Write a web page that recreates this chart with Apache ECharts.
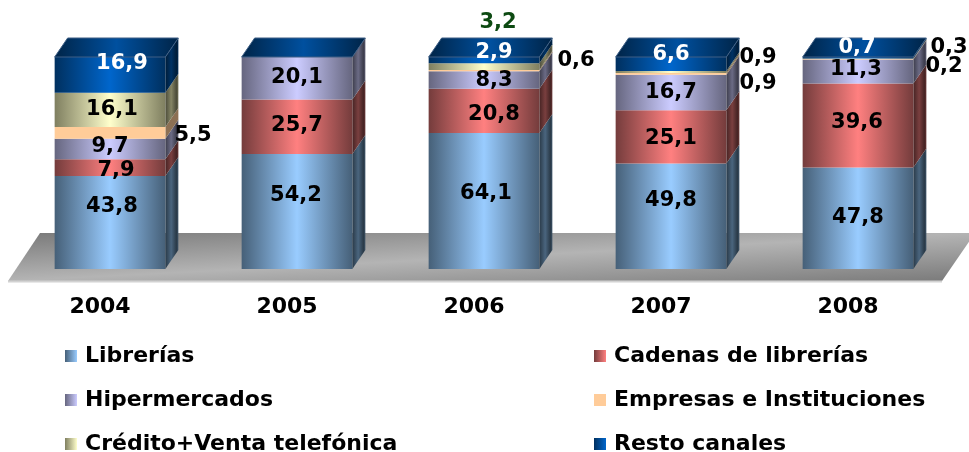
<!DOCTYPE html>
<html><head><meta charset="utf-8">
<style>html,body{margin:0;padding:0;background:#fff}#c{width:969px;height:452px}</style>
<script src="https://cdn.jsdelivr.net/npm/echarts@6/dist/echarts.min.js"></script>
</head><body><div id="c"></div>
<script>
const years = ['2004','2005','2006','2007','2008'];
const librerias = [43.8,54.2,64.1,49.8,47.8];
const cadenas = [7.9,25.7,20.8,25.1,39.6];
const hipermercados = [9.7,20.1,8.3,16.7,11.3];
const empresas = [5.5,0,0.6,0.9,0.2];
const credito = [16.1,0,3.2,0.9,0.3];
const resto = [16.9,0,2.9,6.6,0.7];

const seriesNames = ['Librerías','Cadenas de librerías','Hipermercados','Empresas e Instituciones','Crédito+Venta telefónica','Resto canales'];
const seriesValues = [librerias,cadenas,hipermercados,empresas,credito,resto];
const edgeColors = ['#466078','#743c3c','#66667f','#ffcc99','#7f7f60','#00305f'];
const midColors = ['#99ccff','#ff8080','#ccccff','#ffcc99','#ffffcc','#0066cc'];
const labelColors = ['#000','#000','#000','#000','#000','#fff'];
// label nudges from segment centre, px: [dx, dy] per series, per year
const labelNudges = [
 [[2,-16],[-1,-16],[2,-7],[0,-16],[0,-1]],
 [[6,3],[0,-1],[10,4],[0,2],[-1,-3]],
 [[0,-2],[0,-1],[10,1],[0,0],[-2,-2]],
 [[83,3],[0,0],[92,-10],[87,10],[86,7]],
 [[2,0],[0,0],[14,-44],[87,-14],[91,-11]],
 [[12,-11],[0,0],[10,-8],[0,-9],[-1,-10]]
];
const creditoHighlight = {series:4, year:2, color:'#0d4a12'};
const DX = 13, DY = 19;

function hGrad(a,b){return new echarts.graphic.LinearGradient(0,0,1,0,[
  {offset:0,color:a},{offset:.5,color:b},{offset:1,color:a}]);}
function shade(hex,f){
  const n=parseInt(hex.slice(1),16);
  const c=[n>>16&255,n>>8&255,n&255].map(v=>Math.min(255,Math.round(v*f)));
  return `rgb(${c})`;
}
function stackEdges(s,i){
  const sum=seriesValues.reduce((t,a)=>t+a[i],0);
  let low=0; for(let k=0;k<s;k++) low+=seriesValues[k][i];
  return [low/sum*100,(low+seriesValues[s][i])/sum*100];
}
const makeRender = s => (params,api)=>{
  const i=api.value(0), v=seriesValues[s][i];
  const [lo,hi]=stackEdges(s,i);
  const x0=api.coord([i,lo]), x1=api.coord([i,hi]);
  const w=api.size([1,0])[0]*0.592;
  const L=x0[0]-w/2, R=x0[0]+w/2, B=x0[1], T=x1[1];
  const kids=[];
  if(v>0){
    const flat=edgeColors[s]===midColors[s];
    const e=edgeColors[s];
    kids.push({type:'polygon',shape:{points:[[R,B],[R+DX,B-DY],[R+DX,T-DY],[R,T]]},
      style:{fill:new echarts.graphic.LinearGradient(0,0,1,0,flat?[
        {offset:0,color:shade(e,.55)},{offset:1,color:shade(e,.55)}]:[
        {offset:0,color:shade(e,.6)},
        {offset:.45,color:shade(e,1.05)},
        {offset:.85,color:shade(e,.6)},
        {offset:1,color:shade(e,.85)}])},silent:true});
    kids.push({type:'rect',shape:{x:L,y:T,width:w,height:B-T},
      style:{fill:hGrad(edgeColors[s],midColors[s])},silent:true});
  }
  if(s===seriesValues.length-1){
    kids.push({type:'polygon',shape:{points:[[L,T],[L+DX,T-DY],[R+DX,T-DY],[R,T]]},
      style:{fill:hGrad('#002447','#00509f'),stroke:'#3f5f85',lineWidth:1},silent:true});
  }
  return {type:'group',children:kids};
};
const labelRender = (params,api)=>{
  const kids=[];
  seriesValues.forEach((vals,s)=>{
    const i=api.value(0), v=vals[i];
    if(!v) return;
    const [lo,hi]=stackEdges(s,i);
    const p=api.coord([i,(lo+hi)/2]), n=labelNudges[s][i];
    const hl=creditoHighlight.series===s&&creditoHighlight.year===i;
    kids.push({type:'text',z2:10,x:p[0]+n[0],y:p[1]+n[1],style:{
      text:String(v).replace('.',','),
      fill:hl?creditoHighlight.color:labelColors[s],
      font:'bold 21px "DejaVu Sans"',align:'center',verticalAlign:'middle'}});
  });
  return {type:'group',children:kids};
};
const series = seriesNames.map((name,s)=>({
  name,type:'custom',coordinateSystem:'cartesian2d',renderItem:makeRender(s),
  encode:{x:0,y:1},silent:true,z:2+s,
  itemStyle:{color:new echarts.graphic.LinearGradient(0,0,1,0,[{offset:0,color:edgeColors[s]},{offset:1,color:midColors[s]}])},
  data:years.map((y,i)=>[i,seriesValues[s][i]])
}));
series.push({type:'custom',name:'etiquetas',coordinateSystem:'cartesian2d',renderItem:labelRender,
  silent:true,z:20,encode:{x:0,y:1},data:years.map((y,i)=>[i,100])});

const legendBase = {orient:'vertical',itemWidth:12,itemHeight:12,itemGap:22,icon:'rect',selectedMode:false,height:130,
  textStyle:{color:'#000',fontFamily:'DejaVu Sans',fontWeight:'bold',fontSize:22,lineHeight:20,padding:[0,0,0,3]},padding:0};
const chart = echarts.init(document.getElementById('c'),null,{renderer:'canvas'});
chart.setOption({
  animation:false,backgroundColor:'#fff',
  grid:{left:16.5,top:57,width:935,height:212,containLabel:false},
  xAxis:{type:'category',data:years.map((y,i)=>i),axisLine:{show:false},axisTick:{show:false},
    axisLabel:{formatter:(v,i)=>years[i],color:'#000',fontFamily:'DejaVu Sans',fontWeight:'bold',fontSize:22,margin:27,interval:0,padding:[0,20,0,0]}},
  yAxis:{type:'value',min:0,max:100,show:false},
  legend:[
    Object.assign({},legendBase,{left:65,top:345,data:seriesNames.filter((n,k)=>k%2===0)}),
    Object.assign({},legendBase,{left:594,top:345,data:seriesNames.filter((n,k)=>k%2===1)})
  ],
  graphic:[
   {type:'polygon',z:0,silent:true,shape:{points:[[8,281],[942,281],[975,233],[40,233]]},
    style:{fill:new echarts.graphic.LinearGradient(485.7,211,490.3,303,[{offset:0,color:'#7c7c7c'},{offset:.5,color:'#b4b4b4'},{offset:1,color:'#7c7c7c'}],true)}},
   {type:'line',z:0,silent:true,shape:{x1:8,y1:281.5,x2:942,y2:281.5},style:{stroke:'#d2d2d2',lineWidth:2}}
  ],
  series
});
</script></body></html>
